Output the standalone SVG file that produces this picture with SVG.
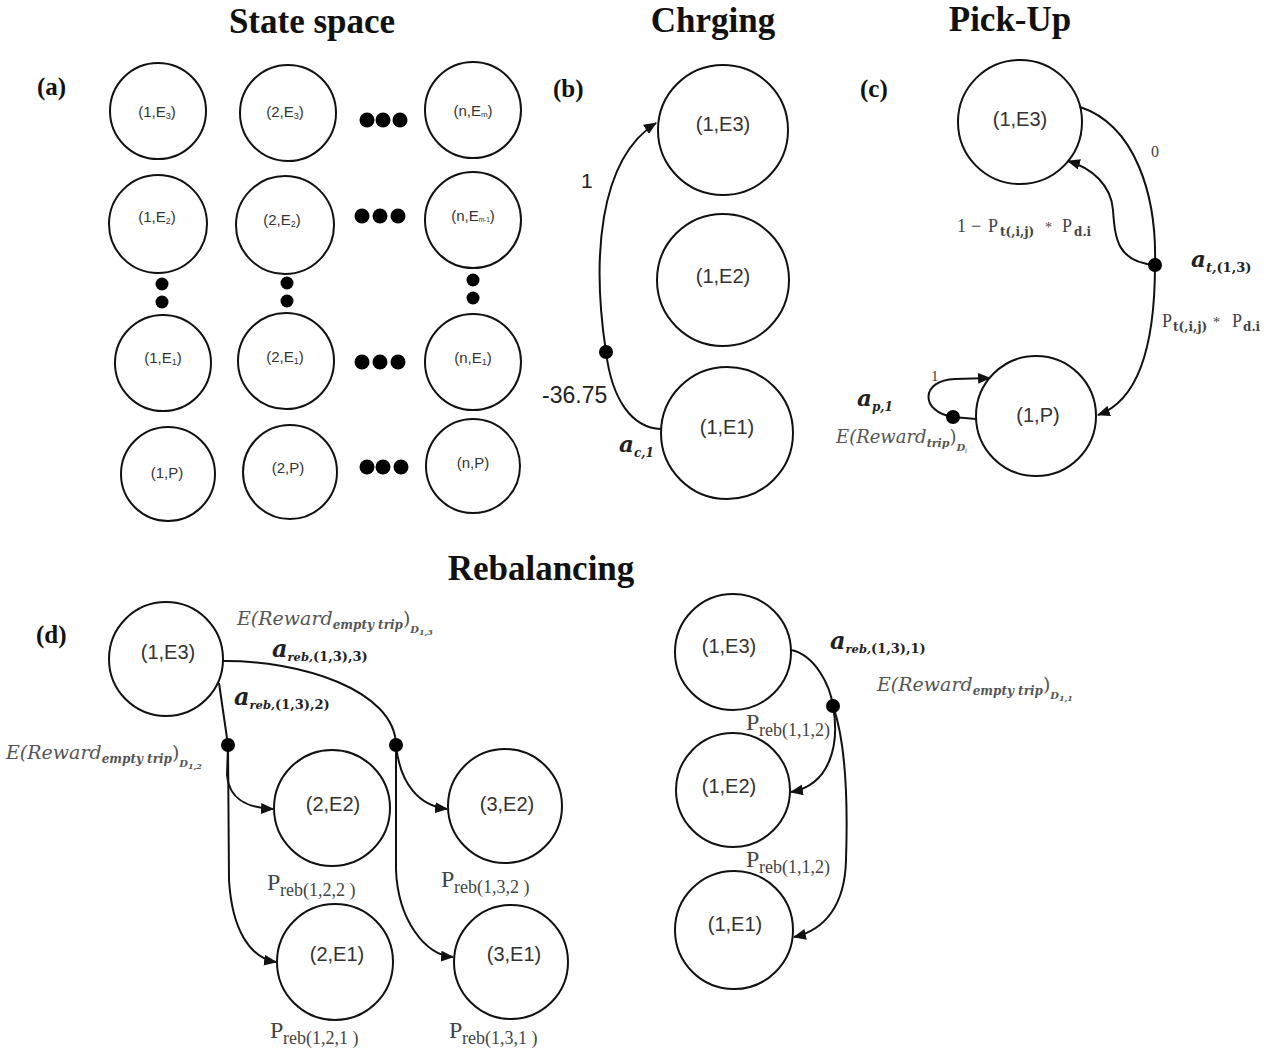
<svg xmlns="http://www.w3.org/2000/svg" width="1286" height="1052" viewBox="0 0 1286 1052">
<defs>
<style>
.n{fill:#fff;stroke:#111;stroke-width:2}
.e{fill:none;stroke:#111;stroke-width:2}
.ttl{font-family:"Liberation Serif",serif;font-weight:bold;font-size:35px;fill:#111;text-anchor:middle}
.pl{font-family:"Liberation Serif",serif;font-weight:bold;font-size:25px;fill:#111}
.ta{font-family:"Liberation Sans",sans-serif;font-size:15px;fill:#333;text-anchor:middle}
.tn{font-family:"Liberation Sans",sans-serif;font-size:20px;fill:#333;text-anchor:middle}
.m{font-family:"DejaVu Serif",serif;font-style:italic;fill:#555}
.ab{font-family:"DejaVu Serif",serif;font-style:italic;font-weight:bold;fill:#222}
.pr{font-family:"Liberation Serif",serif;fill:#444}
.sb{font-family:"DejaVu Serif",serif;font-weight:bold}
.ar{font-family:"Liberation Sans",sans-serif;fill:#222}
</style>
<marker id="ah" viewBox="0 0 12 10" refX="11" refY="5" markerWidth="13" markerHeight="11" markerUnits="userSpaceOnUse" orient="auto">
<path d="M0,0 L12,5 L0,10 z" fill="#111"/>
</marker>
</defs>
<rect width="1286" height="1052" fill="#fff"/>

<g id="titles">
<text class="ttl" x="312" y="33" font-size="36">State space</text>
<text class="ttl" x="713" y="32">Chrging</text>
<text class="ttl" x="1010" y="31">Pick-Up</text>
<text class="ttl" x="541" y="580" font-size="34">Rebalancing</text>
<text class="pl" x="37" y="95">(a)</text>
<text class="pl" x="553" y="97">(b)</text>
<text class="pl" x="860" y="97">(c)</text>
<text class="pl" x="36" y="643">(d)</text>
</g>

<!-- (a) state space -->
<g id="a-1-E3"><circle class="n" cx="158" cy="111" r="48"/><text class="ta" x="157" y="117">(1,E<tspan font-size="9" dy="2">3</tspan><tspan dy="-2">)</tspan></text></g>
<g id="a-2-E3"><circle class="n" cx="288" cy="113" r="48"/><text class="ta" x="285" y="117">(2,E<tspan font-size="9" dy="2">3</tspan><tspan dy="-2">)</tspan></text></g>
<g id="a-n-Em"><circle class="n" cx="473" cy="110" r="48"/><text class="ta" x="473" y="116" font-size="13">(n,E<tspan font-size="8" dy="1">m</tspan><tspan dy="-1">)</tspan></text></g>
<g id="a-1-E2"><circle class="n" cx="158" cy="224" r="49"/><text class="ta" x="157" y="222">(1,E<tspan font-size="9" dy="2">2</tspan><tspan dy="-2">)</tspan></text></g>
<g id="a-2-E2"><circle class="n" cx="285" cy="225" r="49"/><text class="ta" x="282" y="225">(2,E<tspan font-size="9" dy="2">2</tspan><tspan dy="-2">)</tspan></text></g>
<g id="a-n-Em1"><circle class="n" cx="473" cy="220" r="48"/><text class="ta" x="473" y="221" font-size="11">(n,E<tspan font-size="6.5" dy="1">m-1</tspan><tspan dy="-1">)</tspan></text></g>
<g id="a-1-E1"><circle class="n" cx="163" cy="363" r="48"/><text class="ta" x="163" y="363">(1,E<tspan font-size="9" dy="2">1</tspan><tspan dy="-2">)</tspan></text></g>
<g id="a-2-E1"><circle class="n" cx="286" cy="361" r="48"/><text class="ta" x="285" y="362">(2,E<tspan font-size="9" dy="2">1</tspan><tspan dy="-2">)</tspan></text></g>
<g id="a-n-E1"><circle class="n" cx="473" cy="362" r="48"/><text class="ta" x="473" y="363">(n,E<tspan font-size="9" dy="2">1</tspan><tspan dy="-2">)</tspan></text></g>
<g id="a-1-P"><circle class="n" cx="168" cy="474" r="47"/><text class="ta" x="167" y="478">(1,P)</text></g>
<g id="a-2-P"><circle class="n" cx="290" cy="472" r="47"/><text class="ta" x="288" y="473">(2,P)</text></g>
<g id="a-n-P"><circle class="n" cx="473" cy="466" r="47"/><text class="ta" x="473" y="468">(n,P)</text></g>
<g id="ellipses" fill="#000">
<circle cx="367" cy="120" r="7.5"/><circle cx="383" cy="120" r="7.5"/><circle cx="400" cy="120" r="7.5"/>
<circle cx="362" cy="216" r="7.5"/><circle cx="380" cy="216" r="7.5"/><circle cx="398" cy="216" r="7.5"/>
<circle cx="362" cy="362" r="7.5"/><circle cx="380" cy="362" r="7.5"/><circle cx="398" cy="362" r="7.5"/>
<circle cx="367" cy="467" r="7.5"/><circle cx="383" cy="467" r="7.5"/><circle cx="401" cy="467" r="7.5"/>
<circle cx="162" cy="284" r="6.5"/><circle cx="162" cy="302" r="6.5"/>
<circle cx="287" cy="283" r="6.5"/><circle cx="287" cy="301" r="6.5"/>
<circle cx="473" cy="280" r="6.5"/><circle cx="473" cy="298" r="6.5"/>
</g>

<!-- (b) charging -->
<g id="b-1-E3"><circle class="n" cx="723" cy="130" r="65"/><text class="tn" x="723" y="131" font-size="21">(1,E3)</text></g>
<g id="b-1-E2"><circle class="n" cx="723" cy="280" r="66"/><text class="tn" x="723" y="283" font-size="21">(1,E2)</text></g>
<g id="b-1-E1"><circle class="n" cx="727" cy="433" r="66"/><text class="tn" x="727" y="434" font-size="21">(1,E1)</text></g>

<!-- (c) pick-up -->
<g id="c-1-E3"><circle class="n" cx="1020" cy="122" r="62"/><text class="tn" x="1020" y="126">(1,E3)</text></g>
<g id="c-1-P"><circle class="n" cx="1036" cy="416" r="60"/><text class="tn" x="1038" y="422">(1,P)</text></g>

<!-- (d) rebalancing -->
<g id="d-1-E3"><circle class="n" cx="166" cy="659" r="57"/><text class="tn" x="168" y="659" font-size="19">(1,E3)</text></g>
<g id="d-2-E2"><circle class="n" cx="332" cy="808" r="58"/><text class="tn" x="333" y="811" font-size="19">(2,E2)</text></g>
<g id="d-3-E2"><circle class="n" cx="505" cy="806" r="57"/><text class="tn" x="507" y="811" font-size="19">(3,E2)</text></g>
<g id="d-2-E1"><circle class="n" cx="335" cy="962" r="58"/><text class="tn" x="337" y="961" font-size="19">(2,E1)</text></g>
<g id="d-3-E1"><circle class="n" cx="511" cy="962" r="57"/><text class="tn" x="514" y="961" font-size="19">(3,E1)</text></g>
<g id="d-r-1-E3"><circle class="n" cx="733" cy="652" r="58"/><text class="tn" x="729" y="653" font-size="19">(1,E3)</text></g>
<g id="d-r-1-E2"><circle class="n" cx="733" cy="790" r="57"/><text class="tn" x="729" y="793" font-size="19">(1,E2)</text></g>
<g id="d-r-1-E1"><circle class="n" cx="734" cy="930" r="59"/><text class="tn" x="735" y="931" font-size="19">(1,E1)</text></g>

<g id="connectors">
<path class="e" d="M661 429 C632 428,612 400,606 352"/>
<path class="e" d="M606 352 C592 260,598 160,656 123" marker-end="url(#ah)"/>
<path class="e" d="M1080 107 C1135 125,1157 195,1155 265"/>
<path class="e" d="M1155 265 C1155 340,1140 400,1098 415" marker-end="url(#ah)"/>
<path class="e" d="M1155 265 C1118 262,1115 240,1113 210 C1111 185,1092 168,1068 161" marker-end="url(#ah)"/>
<path class="e" d="M976 419 L953 417"/>
<path class="e" d="M953 417 C920 412,920 380,955 379 L990 378" marker-end="url(#ah)"/>
<path class="e" d="M222 661 C300 660,395 690,396 745"/>
<path class="e" d="M219 683 L228 745"/>
<path class="e" d="M228 745 L227 775 C229 800,248 808,273 809" marker-end="url(#ah)"/>
<path class="e" d="M228 745 L229 880 C232 930,250 958,276 962" marker-end="url(#ah)"/>
<path class="e" d="M396 745 C400 785,420 806,447 809" marker-end="url(#ah)"/>
<path class="e" d="M396 745 L396 870 C398 920,425 955,453 957" marker-end="url(#ah)"/>
<path class="e" d="M791 650 C815 655,830 685,833 706"/>
<path class="e" d="M833 706 C840 745,830 785,791 792" marker-end="url(#ah)"/>
<path class="e" d="M833 706 C845 740,848 800,846 860 C845 905,825 930,794 937" marker-end="url(#ah)"/>
<g fill="#000">
<circle cx="606" cy="352" r="7"/>
<circle cx="1155" cy="265" r="7"/>
<circle cx="953" cy="417" r="7"/>
<circle cx="228" cy="745" r="7"/>
<circle cx="396" cy="745" r="7"/>
<circle cx="833" cy="706" r="7"/>
</g>
</g>

<g id="labels">
<!-- (b) -->
<text class="ar" x="581" y="188" font-size="21">1</text>
<text class="ar" x="542" y="403" font-size="23">-36.75</text>
<text class="ab" x="619" y="452" font-size="23">a<tspan font-size="12" dy="5">c,1</tspan></text>
<!-- (c) -->
<text class="pr" x="1151" y="157" font-size="16">0</text>
<text class="pr" font-size="18" y="232"><tspan x="957">1</tspan><tspan x="971">−</tspan><tspan x="988">P</tspan><tspan class="sb" x="1000" dy="4" font-size="12">t(,i,j)</tspan><tspan x="1045" dy="-4" font-size="14">*</tspan><tspan x="1062">P</tspan><tspan class="sb" x="1074" dy="4" font-size="12">d.i</tspan></text>
<text class="ab" x="1191" y="267" font-size="23">a<tspan font-size="13" dy="5">t,</tspan><tspan font-style="normal" font-size="13">(1,3)</tspan></text>
<text class="pr" font-size="18" y="327"><tspan x="1162">P</tspan><tspan class="sb" x="1173" dy="4" font-size="12">t(,i,j)</tspan><tspan x="1213" dy="-4" font-size="14">*</tspan><tspan x="1232">P</tspan><tspan class="sb" x="1243" dy="4" font-size="12">d.i</tspan></text>
<text class="pr" x="931" y="381" font-size="15">1</text>
<text class="ab" x="857" y="406" font-size="23">a<tspan font-size="12" dy="5">p,1</tspan></text>
<text class="m" x="836" y="443" font-size="18">E(Reward<tspan font-size="11" font-weight="bold" dy="4">trip</tspan><tspan font-style="normal" dy="-4">)</tspan><tspan font-size="10" font-weight="bold" dy="8">D</tspan><tspan font-size="7" dy="2">i</tspan></text>
<!-- (d) left -->
<text class="m" x="237" y="625" font-size="19">E(Reward<tspan font-size="12" font-weight="bold" dy="4">empty trip</tspan><tspan font-style="normal" dy="-4">)</tspan><tspan font-size="10" font-weight="bold" dy="8">D</tspan><tspan font-size="8" font-weight="bold" dy="2">1,3</tspan></text>
<text class="ab" x="272" y="657" font-size="24">a<tspan font-size="11.5" dy="4">reb,</tspan><tspan font-style="normal" font-size="13">(1,3),3)</tspan></text>
<text class="ab" x="234" y="705" font-size="24">a<tspan font-size="11.5" dy="4">reb,</tspan><tspan font-style="normal" font-size="13">(1,3),2)</tspan></text>
<text class="m" x="6" y="759" font-size="19">E(Reward<tspan font-size="12" font-weight="bold" dy="4">empty trip</tspan><tspan font-style="normal" dy="-4">)</tspan><tspan font-size="10" font-weight="bold" dy="8">D</tspan><tspan font-size="8" font-weight="bold" dy="2">1,2</tspan></text>
<text class="pr" y="890" font-size="24"><tspan x="267">P</tspan><tspan x="280" dy="6" font-size="18">reb(1,2,2 )</tspan></text>
<text class="pr" y="887" font-size="24"><tspan x="441">P</tspan><tspan x="454" dy="6" font-size="18">reb(1,3,2 )</tspan></text>
<text class="pr" y="1038" font-size="24"><tspan x="270">P</tspan><tspan x="283" dy="6" font-size="18">reb(1,2,1 )</tspan></text>
<text class="pr" y="1038" font-size="24"><tspan x="449">P</tspan><tspan x="462" dy="6" font-size="18">reb(1,3,1 )</tspan></text>
<!-- (d) right -->
<text class="ab" x="830" y="649" font-size="24">a<tspan font-size="11.5" dy="4">reb,</tspan><tspan font-style="normal" font-size="13">(1,3),1)</tspan></text>
<text class="m" x="877" y="691" font-size="19">E(Reward<tspan font-size="12" font-weight="bold" dy="4">empty trip</tspan><tspan font-style="normal" dy="-4">)</tspan><tspan font-size="10" font-weight="bold" dy="8">D</tspan><tspan font-size="8" font-weight="bold" dy="2">1,1</tspan></text>
<text class="pr" y="730" font-size="24"><tspan x="746">P</tspan><tspan x="759" dy="6" font-size="18">reb(1,1,2)</tspan></text>
<text class="pr" y="867" font-size="24"><tspan x="746">P</tspan><tspan x="759" dy="6" font-size="18">reb(1,1,2)</tspan></text>
</g>
</svg>
